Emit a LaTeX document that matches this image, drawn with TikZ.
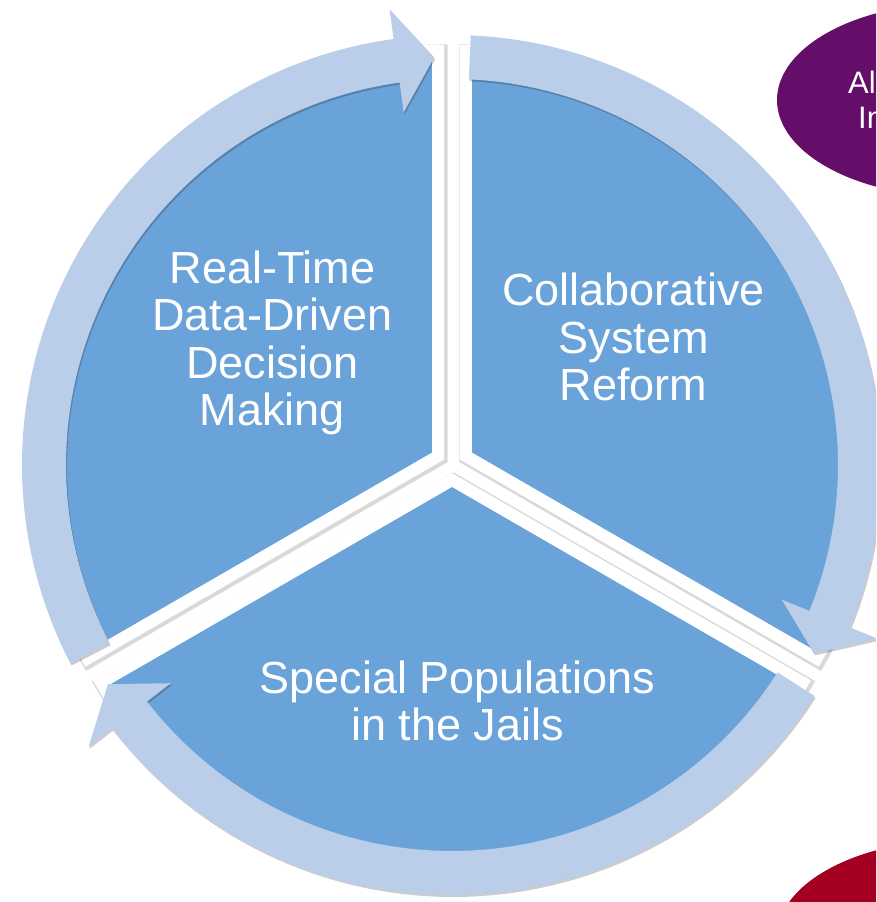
\documentclass[tikz,border=0pt]{standalone}
\usepackage{fontspec}
\setmainfont{Liberation Sans}
\definecolor{secblue}{RGB}{106,163,217}
\definecolor{ringblue}{RGB}{186,206,234}
\definecolor{purp}{RGB}{100,14,106}
\definecolor{crim}{RGB}{164,0,34}
\tikzset{
  sectorfill/.style={fill=secblue, draw=white, line width=12pt, line join=miter},
  sectorshadow/.style={draw=black, draw opacity=0.15, line width=16pt, line join=miter},
  ringfill/.style={fill=ringblue},
  ringshadow/.style={fill=black, fill opacity=0.2},
  lbl/.style={text=white, align=center, inner sep=0pt, font=\fontsize{45}{47.5}\selectfont},
  ovtext/.style={text=white, anchor=base west, inner sep=0pt, font=\fontsize{31}{35}\selectfont}
}
\begin{document}
\begin{tikzpicture}[x=1pt,y=1pt]
\useasboundingbox (0,0) rectangle (876,-902);
\clip (0,0) rectangle (876,-902);
\fill[white] (0,0) rectangle (876,-902);

% side ellipses
\fill[purp] (957,-100) ellipse[x radius=180, y radius=97];
\fill[crim] (957,-937) ellipse[x radius=180, y radius=97];
\node[ovtext] (alt) at (848,-93) {Alt};
\node[ovtext] (inc) at (858,-128) {In};

% sectors
\foreach \b/\s in {150/90, 30/-30, 270/210} {
  \begin{scope}[shift={(452,-464)}, shift={(\b:16)}]
    \draw[sectorshadow, shift={(1.5,-1.5)}] (0,0) -- (\s:405) arc[start angle=\s, end angle=\s+120, radius=405] -- cycle;
    \path[sectorfill] (0,0) -- (\s:405) arc[start angle=\s, end angle=\s+120, radius=405] -- cycle;
  \end{scope}
}

% ring arrows
\foreach \t in {207.5, 87.5, -32.5} {
  \pgfmathsetmacro{\p}{\t-115}
  \pgfmathsetmacro{\bb}{\t-109.7}
  \begin{scope}[shift={(452,-465)}]
    \fill[ringshadow, shift={(1,-2)}] (\t:430) arc[start angle=\t, end angle=\bb, radius=430] -- (\bb:460) -- (\p:408) -- (\bb:356) -- (\bb:386) arc[start angle=\bb, end angle=\t, radius=386] -- cycle;
    \fill[ringfill] (\t:430) arc[start angle=\t, end angle=\bb, radius=430] -- (\bb:460) -- (\p:408) -- (\bb:356) -- (\bb:386) arc[start angle=\bb, end angle=\t, radius=386] -- cycle;
  \end{scope}
}

% labels
\node[lbl] (rt) at (272.5,-343) {Real-Time\\Data-Driven\\Decision\\Making};
\node[lbl] (cs) at (633.5,-337) {Collaborative\\System\\Reform};
\node[lbl] (sp) at (457.5,-701) {Special Populations\\in the Jails};
\end{tikzpicture}
\end{document}
